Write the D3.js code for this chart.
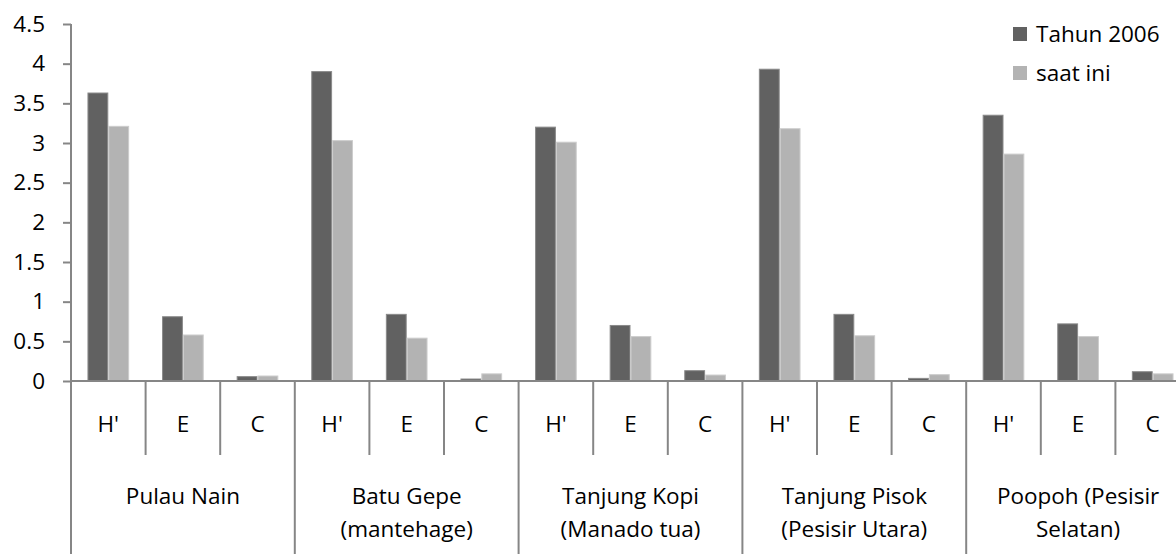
<!DOCTYPE html>
<html><head><meta charset="utf-8">
<script src="https://cdn.jsdelivr.net/npm/d3@7"></script>
<style>html,body{margin:0;padding:0;background:#fff;}svg{display:block;font-family:"Open Sans",sans-serif;}</style>
</head><body>
<svg id="c" width="1176" height="554"></svg>
<script>
const groups = [["Pulau Nain"],["Batu Gepe","(mantehage)"],["Tanjung Kopi","(Manado tua)"],["Tanjung Pisok","(Pesisir Utara)"],["Poopoh (Pesisir","Selatan)"]];
const indices = ["H'","E","C"];
const seriesNames = ["Tahun 2006","saat ini"];
const tahun2006 = [3.63,0.81,0.055, 3.90,0.84,0.025, 3.20,0.70,0.13, 3.93,0.84,0.033, 3.35,0.72,0.117];
const saatIni   = [3.21,0.58,0.063, 3.03,0.54,0.09, 3.01,0.56,0.075, 3.18,0.57,0.08, 2.86,0.56,0.09];
const yTicks = [0,0.5,1,1.5,2,2.5,3,3.5,4,4.5];
const colors = ["#616161","#b3b3b3"];
const strokes = ["#8a8a8a","#cdcdcd"];

const svg = d3.select("#c");
const axisColor = "#868686";
const fs = 22.5;
const slots = [];
groups.forEach((g,gi)=>indices.forEach((k,ki)=>slots.push({gi,ki,key:gi+"-"+ki,label:k})));
const x = d3.scaleBand().domain(slots.map(d=>d.key)).range([71,1190]).padding(0);
const xs = d3.scaleBand().domain(seriesNames).range([0,x.bandwidth()]).paddingInner(0).paddingOuter(0.79);
const y = d3.scaleLinear().domain([0,4.5]).range([381,24]);

const data = [tahun2006, saatIni];
seriesNames.forEach((s,si)=>{
  svg.append("g").selectAll("rect").data(slots).join("rect")
    .attr("x",d=>x(d.key)+xs(s)+0.5)
    .attr("width",xs.bandwidth()-1)
    .attr("y",(d,i)=>y(data[si][i]))
    .attr("height",(d,i)=>y(0)-y(data[si][i]))
    .attr("fill",colors[si]).attr("stroke",strokes[si]).attr("stroke-width",1);
});

// y axis
const ya = svg.append("g").attr("transform","translate(71,0)")
  .call(d3.axisLeft(y).tickValues(yTicks).tickSize(8).tickPadding(18).tickFormat(d=>String(d)));
ya.select(".domain").remove();
ya.selectAll(".tick line").attr("stroke",axisColor).attr("stroke-width",2);
ya.selectAll(".tick text").attr("font-size",fs).attr("fill","#000").attr("font-family","Open Sans");
svg.append("line").attr("x1",71).attr("x2",71).attr("y1",y(4.5)).attr("y2",554).attr("stroke",axisColor).attr("stroke-width",2);
svg.append("line").attr("x1",71).attr("x2",1190).attr("y1",y(0)).attr("y2",y(0)).attr("stroke",axisColor).attr("stroke-width",2);

// separators
slots.forEach((d,i)=>{
  if(i===0) return;
  const xx = x(d.key);
  svg.append("line").attr("x1",xx).attr("x2",xx).attr("y1",y(0)).attr("y2",d.ki===0?554:455)
    .attr("stroke",axisColor).attr("stroke-width",2);
});
svg.append("line").attr("x1",1190).attr("x2",1190).attr("y1",y(0)).attr("y2",554).attr("stroke",axisColor).attr("stroke-width",2);

// category labels
svg.append("g").selectAll("text").data(slots).join("text")
  .attr("x",d=>x(d.key)+x.bandwidth()/2).attr("y",432)
  .attr("text-anchor","middle").attr("font-size",fs).text(d=>d.label);

// group labels
groups.forEach((g,gi)=>{
  const cx = x(gi+"-1")+x.bandwidth()/2;
  g.forEach((line,li)=>{
    svg.append("text").attr("x",cx).attr("y",504+li*33).attr("text-anchor","middle")
      .attr("font-size",fs).text(line);
  });
});

// legend
seriesNames.forEach((s,si)=>{
  const cy = 34+si*39;
  svg.append("rect").attr("x",1013).attr("y",cy-7).attr("width",14).attr("height",14).attr("fill",colors[si]);
  svg.append("text").attr("x",1036).attr("y",cy+8).attr("font-size",fs).text(s);
});
</script>
</body></html>
